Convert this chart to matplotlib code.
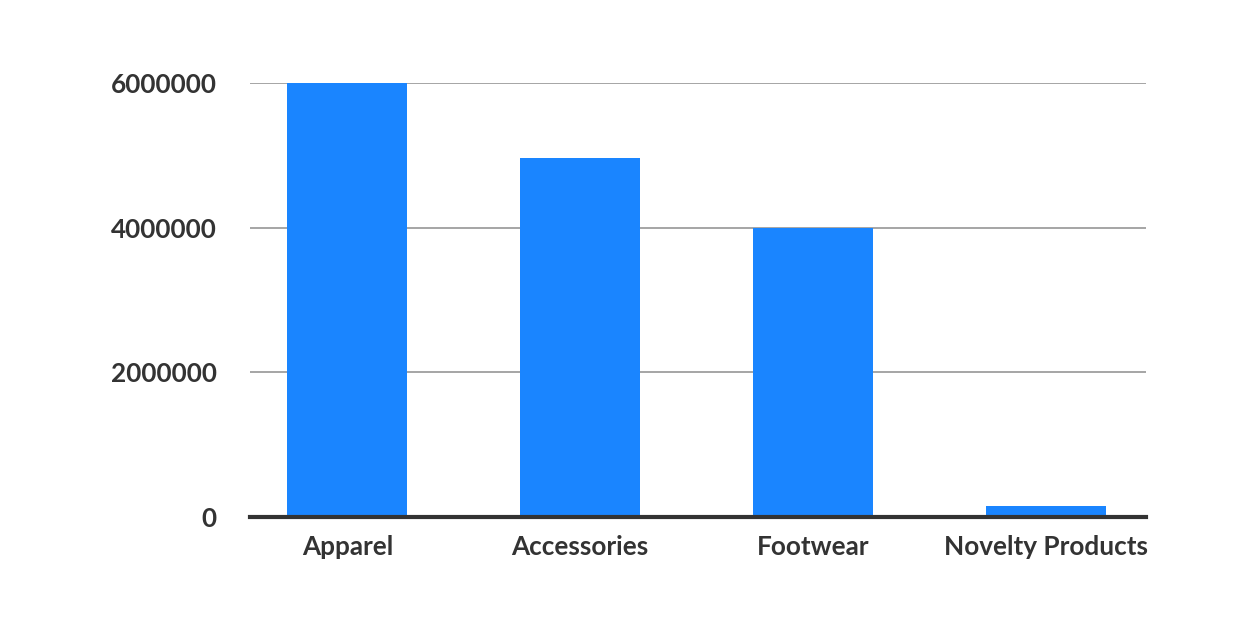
import matplotlib
matplotlib.use("Agg")
import matplotlib.pyplot as plt

categories = ["Apparel", "Accessories", "Footwear", "Novelty Products"]
values = [6000000, 4960000, 4000000, 150000]
yticks = [0, 2000000, 4000000, 6000000]

plt.rcParams['font.family'] = ['Lato', 'DejaVu Sans']

W, H = 1250, 634
fig = plt.figure(figsize=(W / 100, H / 100), dpi=100)
ax = fig.add_axes([250 / W, 1 - 517 / H, (1146 - 250) / W, (517 - 83) / H])

x = list(range(len(categories)))
ax.bar(x, values, width=0.515, color="#1a85ff", zorder=2)
ax.set_xlim(-0.418, 3.43)
ax.set_ylim(0, 6000000)
ax.set_yticks(yticks)
ax.set_yticklabels([str(v) for v in yticks])
ax.set_xticks(x)
ax.set_xticklabels(categories)
ax.yaxis.grid(True, color="#9e9e9e", linewidth=1.3, zorder=1)
ax.set_axisbelow(True)
for s in ["top", "right", "left"]:
    ax.spines[s].set_visible(False)
ax.spines["bottom"].set_color("#333333")
ax.spines["bottom"].set_linewidth(3)
ax.spines["bottom"].set_zorder(3)
ax.tick_params(axis="both", length=0, labelsize=18.8, colors="#333333")
ax.tick_params(axis="y", pad=24)
ax.tick_params(axis="x", pad=13)
for lab in ax.get_xticklabels() + ax.get_yticklabels():
    lab.set_fontweight("bold")

fig.savefig("out.png", dpi=100, facecolor="white")
